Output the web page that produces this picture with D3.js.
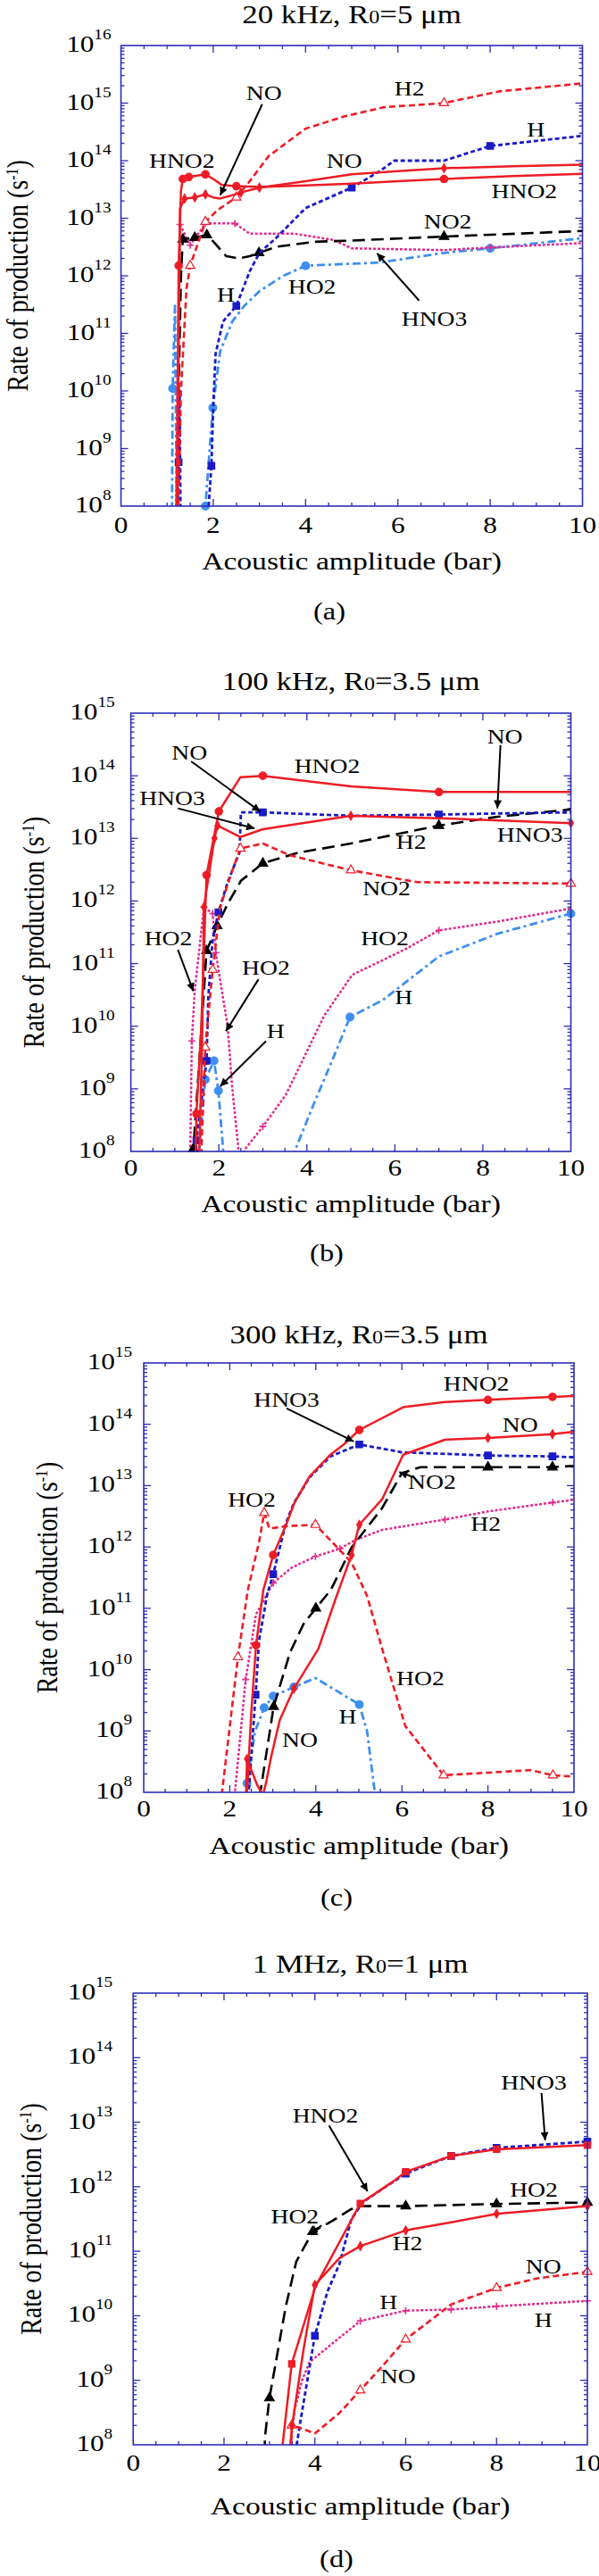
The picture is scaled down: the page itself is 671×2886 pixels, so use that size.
<!DOCTYPE html>
<html>
<head>
<meta charset="utf-8">
<script src="https://cdn.jsdelivr.net/npm/d3@7"></script>
<style>
body { margin: 0; background: #fff; }
svg { display: block; }
text { font-family: "Liberation Serif", "Times New Roman", serif; fill: #000; }
</style>
</head>
<body>
<script>
const W = 671, H = 2886;

// ---- axis ticks ----
const xTickLabels = [0, 2, 4, 6, 8, 10];
const bottomDecade = 8;

// ---- panel (a) 20 kHz ----
const a_HNO2 = [[1.19,1e7],[1.22,1e9],[1.25,1.5e12,1],[1.3,3e13],[1.34,4.8e13,1],[1.47,5.2e13,1],[1.83,5.8e13,1],[2.0,4.8e13],[2.18,3.8e13],[2.5,3.6e13,1],[3.0,3.5e13],[4.0,3.7e13],[5.0,4.0e13],[6.0,4.4e13],[7.0,4.8e13,1],[8.5,5.4e13],[10,5.9e13]];
const a_NO = [[1.2,1e7],[1.24,1e10],[1.28,1.5e13],[1.38,2.2e13,1],[1.6,2.3e13,1],[1.83,2.6e13,1],[2.0,2.3e13],[2.15,2.2e13],[2.4,2.5e13],[2.6,2.8e13,1],[3.0,3.4e13,1],[4.0,4.4e13],[5.0,5.8e13],[6.0,6.6e13],[7.0,7.4e13,1],[8.5,8.0e13],[10,8.5e13]];
const a_H2 = [[1.22,1e7],[1.3,1e10],[1.42,6e11],[1.5,1.5e12,1],[1.83,8.7e12,1],[2.1,1.4e13],[2.5,2.3e13,1],[2.8,4.5e13],[3.2,1.2e14],[4.0,3.6e14],[4.85,5.9e14],[5.7,8.5e14],[7.0,1e15,1],[8.2,1.6e15],[10,2.2e15]];
const a_H = [[1.2,1e7],[1.25,5.8e8,1],[1.27,1e10],[1.3,1e7],[1.85,1e7],[1.9,1e8],[1.96,5e8,1],[2.0,5.5e9],[2.05,4.4e10],[2.21,1.6e11],[2.5,3e11,1],[2.79,1.2e12],[3.0,2.5e12],[3.37,4.6e12],[4.0,1.5e13],[5.0,3.4e13,1],[5.6,6.5e13],[5.92,1e14],[7.0,1e14],[8.0,1.8e14,1],[10,2.7e14]];
const a_HNO3 = [[1.18,1e7],[1.22,1e10],[1.26,1e12],[1.28,7.8e12,1],[1.5,3.4e12,1],[1.83,8.2e12,1],[2.47,8.1e12,1],[2.79,5.4e12],[3.76,5.4e12],[4.6,4.2e12],[5.0,3e12],[7.0,2.8e12],[8.0,3.1e12,1],[10,3.7e12]];
const a_NO2 = [[1.2,1e7],[1.25,1e10],[1.3,1e12],[1.34,4.3e12,1],[1.6,4.6e12,1],[1.86,5.1e12,1],[2.02,3.8e12],[2.28,2.2e12],[2.54,2e12],[2.79,2.2e12],[2.99,2.5e12,1],[3.37,3.2e12],[4.2,3.9e12],[5.0,4.1e12],[7.0,4.8e12,1],[10,6e12]];
const a_HO2 = [[1.1,1e7],[1.12,1.1e10,1],[1.17,3e11],[1.22,1e7],[1.8,1e7],[1.83,1e8,1],[1.99,5.1e9,1],[2.15,4.9e10],[2.41,1.6e11],[2.67,3e11],[3.0,5.4e11],[3.5,9.8e11],[4.0,1.5e12,1],[5.6,1.7e12],[7.0,2.5e12],[8.0,3e12,1],[10,4.5e12]];
const a_labels = [["NO",3.1,15.18],["H2",6.25,15.26],["H",8.99,14.54],["HNO2",1.32,14.0],["NO",4.84,14.0],["HNO2",8.74,13.48],["NO2",7.08,12.94],["H",2.27,11.67],["HO2",4.14,11.82],["HNO3",6.79,11.26]];
const a_arrows = [[3.06,14.98,2.15,13.4],[6.46,11.57,5.55,12.39]];

// ---- panel (b) 100 kHz ----
const b_HNO2 = [[1.45,1e7],[1.49,4e8,1],[1.6,1e10],[1.72,2.6e12,1],[2.0,2.7e13,1],[2.49,9.5e13],[3.0,1e14,1],[5.0,6.8e13],[7.0,5.5e13,1],[10,5.5e13]];
const b_HNO3 = [[1.52,1e7],[1.62,5.8e9],[1.66,8e11,1],[1.9,1e13,1],[1.97,1.6e13,1],[2.49,1.05e13],[3.0,1.4e13],[5.0,2.3e13,1],[7.0,2.1e13],[10,1.75e13,1]];
const b_NO = [[1.45,1e7],[1.49,1.5e8,1],[1.72,2.8e9,1],[1.76,3e10],[1.86,2.5e11],[1.99,6.6e11,1],[2.2,2e12],[2.47,6e12],[2.5,2.6e13],[3.0,2.6e13,1],[5.0,2.3e13],[7.0,2.4e13,1],[8.3,2.5e13],[10,2.6e13]];
const b_H2 = [[1.4,1e7],[1.42,1.1e8,1],[1.6,8e9],[1.72,1.6e11,1],[1.96,4e11,1],[2.2,9e11],[2.5,2.1e12],[3.0,4e12,1],[3.8,5.9e12],[5.0,8.3e12],[7.0,1.6e13,1],[8.3,2.2e13],[10,2.9e13]];
const b_NO2 = [[1.55,1e7],[1.69,4.6e9,1],[1.86,8e10,1],[2.03,8e11],[2.3,3e12],[2.49,6.9e12,1],[3.0,8.3e12],[3.6,5.4e12],[5.0,3.1e12,1],[6.5,2e12],[10,1.9e12,1]];
const b_HO2 = [[1.33,1e7],[1.35,1e8],[1.385,5.8e9,1],[1.45,3.6e10],[1.66,8e11,1],[1.86,6.3e11,1],[1.93,1.5e11,1],[2.06,4e10],[2.2,1e10],[2.3,1.1e9],[2.45,1e8],[2.5,6e7],[2.6,1.1e8],[3.0,2.5e8,1],[3.52,8e8],[4.4,1.5e10],[5.03,6.6e10],[6.24,1.7e11],[7.0,3.4e11,1],[8.33,4.7e11],[10,7.6e11]];
const b_H = [[1.48,1e7],[1.55,1e8],[1.69,1.4e9,1],[1.89,2.8e9,1],[1.99,9.3e8,1],[2.1,1e8],[2.15,1e7],[3.6,1e7],[3.72,1e8],[4.16,5.8e8],[4.59,3e9],[4.98,1.4e10,1],[5.72,2.6e10],[6.24,5e10],[7.0,1.3e11],[8.33,3e11],[10,6.3e11,1]];
const b_labels = [["NO",1.33,14.37],["HNO2",4.46,14.16],["NO",8.5,14.63],["HNO3",0.94,13.64],["H2",6.37,12.94],["HNO3",9.07,13.06],["NO2",5.81,12.21],["HO2",0.85,11.41],["HO2",5.77,11.41],["HO2",3.07,10.94],["H",6.2,10.47],["H",3.29,9.92]];
const b_arrows = [[1.37,14.23,2.94,13.43],[8.4,14.49,8.33,13.48],[1.07,13.48,2.81,13.16],[1.07,11.22,1.42,10.56],[2.9,10.75,2.16,9.92],[3.07,9.76,2.03,9.04]];

// ---- panel (c) 300 kHz ----
const c_HNO2 = [[2.35,1e7],[2.4,1e8],[2.5,2e9],[2.61,2.5e10,1],[2.78,2e11],[3.01,7.4e11,1],[3.32,2.4e12],[3.5,5.2e12],[3.85,1.4e13],[4.34,3.2e13],[4.65,4.7e13],[5.01,8.1e13,1],[6.03,1.9e14],[7.0,2.3e14],[8.0,2.5e14,1],[9.5,2.8e14,1],[10,2.9e14]];
const c_NO = [[2.33,1e7],[2.38,1e8],[2.4,3.5e8,1],[2.64,1.3e8],[2.77,9e7],[2.85,1.5e8],[2.95,3.5e8],[3.16,1.5e9],[3.49,4.9e9,1],[4.06,2.2e10],[4.47,1.5e11],[4.83,7.4e11,1],[5.01,2.3e12,1],[5.54,6e12],[6.03,3.2e13],[7.0,5.6e13],[8.0,6e13,1],[9.5,6.9e13,1],[10,7.6e13]];
const c_HNO3 = [[2.4,1e7],[2.44,1e8],[2.6,3.9e9,1],[2.68,3e10],[2.87,1.7e11],[3.01,3.6e11,1],[3.3,2.4e12],[3.49,5.2e12],[3.85,1.35e13],[4.34,3e13],[5.01,4.7e13,1],[6.0,3.5e13],[8.0,3.1e13,1],[9.5,3e13,1],[10,2.9e13]];
const c_NO2 = [[2.68,1e7],[2.71,1e8],[3.02,2.5e9,1],[3.4,1.9e10],[3.71,5.5e10],[4.0,1e11,1],[4.35,2e11],[4.83,9.8e11],[5.54,4.3e12],[6.0,1.6e13],[6.43,2e13],[8.0,2e13,1],[9.5,2e13,1],[10,2.1e13]];
const c_HO2 = [[1.78,1e7],[1.82,1e8],[2.19,1.6e10,1],[2.42,2e11],[2.68,1.2e12],[2.8,3.6e12,1],[2.92,2e12],[3.36,2.2e12],[3.99,2.3e12,1],[4.38,1.2e12],[4.83,5.6e11],[5.19,1.6e11],[5.54,2.2e10],[6.08,1.2e9],[6.97,1.9e8,1],[9.0,2.3e8],[9.51,1.9e8,1],[10,1.8e8]];
const c_H2 = [[2.1,1e7],[2.12,1e8],[2.37,6.9e9,1],[2.61,8e10],[3.01,2.6e11,1],[3.44,4.6e11],[3.99,7e11,1],[4.56,9.4e11,1],[4.92,1.3e12],[5.54,1.9e12],[7.0,2.8e12,1],[8.0,3.8e12],[9.5,5.3e12,1],[10,5.9e12]];
const c_H = [[2.37,1e7],[2.4,1.4e8,1],[2.59,1e9],[2.8,2.4e9,1],[3.01,3.7e9,1],[3.49,5.2e9,1],[3.99,7.3e9],[5.01,2.7e9,1],[5.19,1e9],[5.37,1e8],[5.42,1e7]];
const c_labels = [["HNO2",7.73,14.67],["HNO3",3.32,14.4],["NO",8.75,13.99],["NO2",6.7,13.06],["HO2",2.51,12.77],["H2",7.95,12.38],["HO2",6.43,9.86],["H",4.74,9.23],["NO",3.63,8.86]];
const c_arrows = [[3.32,14.26,4.88,13.72],[6.26,13.14,5.94,13.22]];

// ---- panel (d) 1 MHz ----
const d_HNO2 = [[3.25,1e7],[3.29,1e8],[3.49,1.8e9,1],[4.01,2.8e10],[5.0,5.5e11,1],[5.72,1.2e12],[6.0,1.7e12,1],[7.0,3e12,1],[8.0,3.8e12,1],[10,4.4e12,1]];
const d_H2 = [[3.43,1e7],[3.46,1e8],[3.5,2e8,1],[3.75,3e9],[4.0,3e10,1],[4.54,7.8e10],[5.0,1.2e11,1],[6.0,2.1e11,1],[7.0,2.8e11],[8.0,3.8e11,1],[10,5e11,1]];
const d_HNO3 = [[3.56,1e7],[3.6,1e8],[3.69,2.5e8],[4.0,4.9e9,1],[4.28,2.4e10],[4.54,6.3e10],[4.8,3.1e11],[5.06,5.8e11],[5.65,1.1e12],[6.0,1.6e12,1],[7.0,3e12,1],[8.0,4e12,1],[10,5e12,1]];
const d_HO2 = [[2.88,1e7],[2.9,1.3e8],[3.0,5.3e8,1],[3.36,1.4e10],[3.59,6.9e10],[3.95,2e11,1],[4.4,3e11],[4.8,4.5e11],[5.03,5e11],[6.0,5e11,1],[8.0,5.4e11,1],[10,5.7e11,1]];
const d_H = [[3.44,1e7],[3.47,1e8],[3.55,3.4e8],[3.72,1e9],[3.88,1.9e9],[4.34,3.5e9],[5.0,8.3e9,1],[6.0,1.2e10,1],[7.0,1.25e10,1],[8.0,1.4e10,1],[10,1.7e10,1]];
const d_NO = [[3.45,1e7],[3.49,2e8,1],[3.7,1.8e8],[4.0,1.5e8],[4.54,3.1e8],[5.0,7e8,1],[5.5,1.7e9],[6.0,4.3e9,1],[7.0,1.5e10],[8.0,2.7e10,1],[8.9,3.8e10],[10,4.8e10,1]];
const d_labels = [["HNO3",8.82,13.62],["HNO2",4.23,13.11],["HO2",8.82,11.95],["HO2",3.56,11.54],["H2",6.04,11.12],["NO",9.03,10.77],["H",5.62,10.22],["H",9.03,9.94],["NO",5.83,9.06]];
const d_arrows = [[8.99,13.45,9.07,12.72],[4.31,12.95,5.16,11.93],[4.15,11.4,3.88,11.28]];

// line styles
const RED = "#ee1c25", BLUE = "#1a1ac8", PINK = "#e22a8c", LBLUE = "#3d8ff0", FRAME = "#2c2cb4";
const styles = {
  redCircle:  { color: RED, dash: null, w: 2.5, sym: "circle", size: 55, fill: RED },
  redDiamond: { color: RED, dash: null, w: 2.5, sym: "diamond", size: 28, fill: RED },
  redSquare:  { color: RED, dash: null, w: 2.5, sym: "square", size: 50, fill: RED },
  redTri:     { color: RED, dash: "7,4", w: 2.6, sym: "triangle", size: 45, fill: "#fff" },
  blueSquare: { color: BLUE, dash: "5,3", w: 2.8, sym: "square", size: 55, fill: BLUE },
  blackTri:   { color: "#000", dash: "14,7", w: 2.6, sym: "triangle", size: 50, fill: "#000" },
  pinkPlus:   { color: PINK, dash: "3,2", w: 2.5, sym: "plus", size: 4, fill: "none" },
  lightCircle:{ color: LBLUE, dash: "9,4,3,4", w: 2.8, sym: "circle", size: 60, fill: LBLUE }
};

const panels = [
  { id: "a", title: ["20 kHz, R", "0", "=5 μm"], letter: "(a)", top: 16,
    L: 135.5, R: 652.5, T: 51, B: 567, titleY: 26, tickY: 597, axY: 638, letterX: 369, letterY: 694, yLabX: 22, gap: 11,
    series: [[a_HO2,"lightCircle"],[a_HNO3,"pinkPlus"],[a_NO2,"blackTri"],[a_H,"blueSquare"],[a_H2,"redTri"],[a_NO,"redDiamond"],[a_HNO2,"redCircle"]],
    labels: a_labels, arrows: a_arrows },
  { id: "b", title: ["100 kHz, R", "0", "=3.5 μm"], letter: "(b)", top: 15,
    L: 146.6, R: 639.5, T: 799, B: 1290, titleY: 773, tickY: 1317, axY: 1358, letterX: 366, letterY: 1413, yLabX: 40, gap: 18,
    series: [[b_H,"lightCircle"],[b_HO2,"pinkPlus"],[b_H2,"blackTri"],[b_NO,"blueSquare"],[b_NO2,"redTri"],[b_HNO3,"redDiamond"],[b_HNO2,"redCircle"]],
    labels: b_labels, arrows: b_arrows },
  { id: "c", title: ["300 kHz, R", "0", "=3.5 μm"], letter: "(c)", top: 15,
    L: 161, R: 643, T: 1527, B: 2008, titleY: 1505, tickY: 2035, axY: 2077, letterX: 377, letterY: 2135, yLabX: 55, gap: 13,
    series: [[c_H,"lightCircle"],[c_H2,"pinkPlus"],[c_NO2,"blackTri"],[c_HNO3,"blueSquare"],[c_HO2,"redTri"],[c_NO,"redDiamond"],[c_HNO2,"redCircle"]],
    labels: c_labels, arrows: c_arrows },
  { id: "d", title: ["1 MHz, R", "0", "=1 μm"], letter: "(d)", top: 15,
    L: 149.2, R: 658, T: 2233, B: 2739, titleY: 2210, tickY: 2768, axY: 2817, letterX: 377, letterY: 2876, yLabX: 37, gap: 23,
    series: [[d_H,"pinkPlus"],[d_HO2,"blackTri"],[d_HNO3,"blueSquare"],[d_NO,"redTri"],[d_H2,"redDiamond"],[d_HNO2,"redSquare"]],
    labels: d_labels, arrows: d_arrows }
];

const SX = 1.2; // the figure is stretched horizontally

const svg = d3.select("body").append("svg").attr("width", W).attr("height", H);
const defs = svg.append("defs");
defs.append("marker").attr("id", "arrow").attr("viewBox", "0 0 10 10")
  .attr("refX", 10).attr("refY", 5).attr("markerWidth", 12).attr("markerHeight", 9)
  .attr("markerUnits", "userSpaceOnUse").attr("orient", "auto")
  .append("path").attr("d", "M0,0L10,5L0,10Z").attr("fill", "#000");

function symPath(name, size) {
  if (name === "plus") return `M${-size},0H${size}M0,${-size}V${size}`;
  const t = { circle: d3.symbolCircle, square: d3.symbolSquare, triangle: d3.symbolTriangle, diamond: d3.symbolDiamond }[name];
  return d3.symbol(t, size)();
}

function stretchText(g, x, y, size, anchor) {
  return g.append("text").attr("transform", `translate(${x},${y}) scale(${SX},1)`)
    .attr("font-size", size).attr("text-anchor", anchor || "middle");
}

function drawPanel(p) {
  const g = svg.append("g");
  const x = d3.scaleLinear().domain([0, 10]).range([p.L, p.R]);
  const y = d3.scaleLog().domain([Math.pow(10, bottomDecade), Math.pow(10, p.top)]).range([p.B, p.T]);

  defs.append("clipPath").attr("id", "clip" + p.id).append("rect")
    .attr("x", p.L).attr("y", p.T).attr("width", p.R - p.L).attr("height", p.B - p.T);

  // ticks inside the frame
  const tk = g.append("g").attr("stroke", FRAME).attr("stroke-width", 1.3);
  d3.range(0.5, 10, 0.5).forEach(v => {
    const len = (v % 2 === 0) ? 8 : 4;
    tk.append("line").attr("x1", x(v)).attr("x2", x(v)).attr("y1", p.B).attr("y2", p.B - len);
    tk.append("line").attr("x1", x(v)).attr("x2", x(v)).attr("y1", p.T).attr("y2", p.T + len);
  });
  for (let e = bottomDecade; e < p.top; e++) {
    for (let m = 1; m <= 9; m++) {
      const v = m * Math.pow(10, e);
      if (m === 1 && e === bottomDecade) continue;
      const len = m === 1 ? 8 : 4;
      tk.append("line").attr("x1", p.L).attr("x2", p.L + len).attr("y1", y(v)).attr("y2", y(v));
      tk.append("line").attr("x1", p.R).attr("x2", p.R - len).attr("y1", y(v)).attr("y2", y(v));
    }
  }

  // series
  const line = d3.line().x(d => x(d[0])).y(d => y(d[1]));
  p.series.forEach(([data, sname]) => {
    const st = styles[sname];
    g.append("path").attr("clip-path", `url(#clip${p.id})`)
      .attr("d", line(data)).attr("fill", "none")
      .attr("stroke", st.color).attr("stroke-width", st.w)
      .attr("stroke-dasharray", st.dash).attr("stroke-linejoin", "round");
    g.selectAll(null).data(data.filter(d => d[2] && d[1] >= 0.99e8)).join("path")
      .attr("transform", d => `translate(${x(d[0])},${y(d[1])})`)
      .attr("d", symPath(st.sym, st.size))
      .attr("fill", st.fill)
      .attr("stroke", st.color).attr("stroke-width", st.sym === "plus" ? 1.6 : 1.2);
  });

  // frame
  g.append("rect").attr("x", p.L).attr("y", p.T).attr("width", p.R - p.L).attr("height", p.B - p.T)
    .attr("fill", "none").attr("stroke", FRAME).attr("stroke-width", 1.6);

  // arrows
  p.arrows.forEach(a => {
    g.append("line").attr("x1", x(a[0])).attr("y1", y(Math.pow(10, a[1])))
      .attr("x2", x(a[2])).attr("y2", y(Math.pow(10, a[3])))
      .attr("stroke", "#000").attr("stroke-width", 2).attr("marker-end", "url(#arrow)");
  });

  // curve labels
  p.labels.forEach(l => {
    stretchText(g, x(l[1]), y(Math.pow(10, l[2])) + 8, 23).text(l[0]);
  });

  // x tick labels
  xTickLabels.forEach(v => stretchText(g, x(v), p.tickY, 26).text(v));

  // y tick labels
  for (let e = bottomDecade; e <= p.top; e++) {
    const t = stretchText(g, p.L - p.gap, y(Math.pow(10, e)) + 7, 26, "end");
    t.append("tspan").text("10");
    t.append("tspan").attr("font-size", 16).attr("dy", -14).text(e);
  }

  // titles
  const tt = stretchText(g, (p.L + p.R) / 2, p.titleY, 29);
  tt.append("tspan").text(p.title[0]);
  tt.append("tspan").attr("font-size", 20).text(p.title[1]);
  tt.append("tspan").text(p.title[2]);
  stretchText(g, (p.L + p.R) / 2, p.axY, 28).text("Acoustic amplitude (bar)");
  stretchText(g, p.letterX, p.letterY, 27).text(p.letter);

  // y axis title, rotated
  const yl = g.append("text")
    .attr("transform", `translate(${p.yLabX + 9},${(p.T + p.B) / 2}) scale(${SX},1) rotate(-90)`)
    .attr("font-size", 28).attr("text-anchor", "middle");
  yl.append("tspan").text("Rate of production (s");
  yl.append("tspan").attr("font-size", 16).attr("dy", -9).text("-1");
  yl.append("tspan").attr("dy", 9).text(")");
}

panels.forEach(drawPanel);
</script>
</body>
</html>
